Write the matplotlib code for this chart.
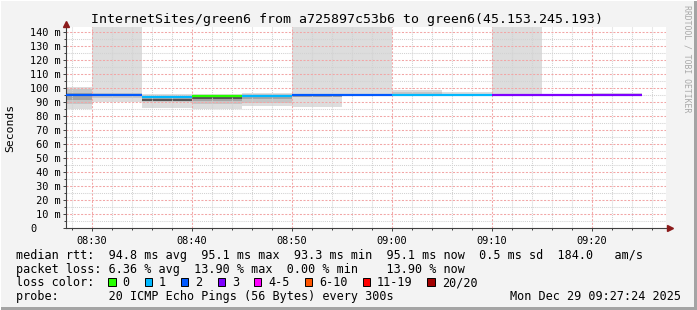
import matplotlib
matplotlib.use('Agg')
import matplotlib.pyplot as plt
import numpy as np
from matplotlib.patches import Rectangle

W, H = 697, 310

# --- data ---
seg_end = ["08:30", "08:35", "08:40", "08:45", "08:50", "08:55",
           "09:00", "09:05", "09:10", "09:15", "09:20", "09:25"]
median = [95.0, 95.3, 93.3, 94.3, 94.4, 95.2, 95.1, 95.1, 95.1, 95.0, 95.0, 95.1]
lost = [2, 2, 1, 0, 1, 2, 2, 1, 1, 3, 3, 3]

nan = np.nan
# smoke bands, outermost to innermost (ms); 150 = above top of chart
l1_lo = [85.2, 90.0, 85.7, 84.8, 87.0, 86.4, 95.0, 95.0, 95.0, 95.0, nan, 95.0]
l1_hi = [100.7, 150, 95.5, 95.5, 96.7, 150, 150, 98.6, 97.1, 150, nan, 96.4]
l2_lo = [88.8, 92.9, 90.0, 88.6, 89.0, nan, nan, 95.0, nan, nan, nan, nan]
l2_hi = [99.1, 96.4, 95.0, 95.0, 95.5, nan, nan, 97.0, nan, nan, nan, nan]
l3_lo = [91.5, nan, 90.5, 90.5, 92.0, 93.4, nan, nan, nan, nan, nan, nan]
l3_hi = [96.5, nan, 94.0, 94.0, 94.5, 94.5, nan, nan, nan, nan, nan, nan]
l4_lo = [nan, nan, 91.0, 92.0, nan, nan, nan, nan, nan, nan, nan, nan]
l4_hi = [nan, nan, 92.4, 93.8, nan, nan, nan, nan, nan, nan, nan, nan]

loss_labels = ["0", "1", "2", "3", "4-5", "6-10", "11-19", "20/20"]
loss_colors = ["#26ff00", "#00b8ff", "#0059ff", "#7e00ff",
               "#ff00ff", "#ff5500", "#ff0000", "#a10000"]

yticks = list(range(0, 150, 10))
xtick_labels = ["08:30", "08:40", "08:50", "09:00", "09:10", "09:20"]

title = "InternetSites/green6 from a725897c53b6 to green6(45.153.245.193)"
row_rtt = "median rtt:  94.8 ms avg  95.1 ms max  93.3 ms min  95.1 ms now  0.5 ms sd  184.0   am/s"
row_loss = "packet loss: 6.36 % avg  13.90 % max  0.00 % min    13.90 % now"
row_probe = "probe:       20 ICMP Echo Pings (56 Bytes) every 300s"
stamp = "Mon Dec 29 09:27:24 2025"


def minutes(s):
    h, m = s.split(":")
    return int(h) * 60 + int(m) - 8 * 60


ends = np.array([minutes(s) for s in seg_end], dtype=float)
starts = ends - 5

mono = "DejaVu Sans Mono"
plt.rcParams['font.family'] = mono

fig = plt.figure(figsize=(W / 100, H / 100), dpi=100, facecolor="#f3f3f3")

# frame of the rrdtool canvas
fig.add_artist(Rectangle((0, 0), 1, 3 / H, transform=fig.transFigure, color="#a4a4a4", lw=0))
fig.add_artist(Rectangle((1 - 3 / W, 0), 3 / W, 1, transform=fig.transFigure, color="#a4a4a4", lw=0))
fig.add_artist(Rectangle((0, 1 - 1 / H), 1, 1 / H, transform=fig.transFigure, color="#ffffff", lw=0))
fig.add_artist(Rectangle((0, 0), 1 / W, 1, transform=fig.transFigure, color="#ffffff", lw=0))


def px(x, y):
    return x / W, 1 - y / H


ax = fig.add_axes([66 / W, (H - 228) / H, 600 / W, 201 / H])
ax.set_facecolor("white")
ax.set_xlim(27.4, 87.4)
ax.set_ylim(0, 143.6)

shades = ["#dddddd", "#c6c6c6", "#a4a4a4", "#555555"]
for (lo, hi), c in zip([(l1_lo, l1_hi), (l2_lo, l2_hi), (l3_lo, l3_hi), (l4_lo, l4_hi)], shades):
    lo = np.array(lo, dtype=float)
    hi = np.array(hi, dtype=float)
    ok = ~np.isnan(lo)
    ax.bar(starts[ok], hi[ok] - lo[ok], width=5, bottom=lo[ok], align='edge',
           color=c, linewidth=0, zorder=1)

ax.hlines(median, starts, ends, colors=[loss_colors[n] for n in lost], lw=1.6, zorder=3)

# grid
ax.set_xticks(np.arange(30, 81, 10))
ax.set_xticklabels(xtick_labels)
ax.set_xticks(np.arange(28, 87, 2), minor=True)
ax.set_yticks(yticks)
ax.set_yticklabels(["0"] + [f"{v:>3d} m" for v in yticks[1:]])
ax.set_yticks(np.arange(5, 145, 10), minor=True)
ax.set_axisbelow('line')
ax.grid(which='minor', color="#d2d2d2", linestyle=(0, (1, 1)), lw=0.75)
ax.grid(which='major', color="#f2a6a6", linestyle=(0, (2, 1.5)), lw=0.75)

for s in ["top", "right"]:
    ax.spines[s].set_visible(False)
for s in ["left", "bottom"]:
    ax.spines[s].set_color("#404040")
    ax.spines[s].set_linewidth(0.8)
ax.spines["bottom"].set_bounds(27.4, 87.7)

ax.tick_params(which='both', direction='out', color="#404040", width=0.7)
ax.tick_params(which='major', length=2.2)
ax.tick_params(which='minor', length=1.5)
ax.tick_params(axis='x', labelsize=7.4, pad=3.2)
ax.tick_params(axis='y', labelsize=7.4, pad=23.6)
for lab in ax.get_yticklabels():
    lab.set_horizontalalignment('left')

# axis arrows
ax.plot([0], [1.0 + 3 / 201], marker='^', ms=4.5, color="#8b1a1a", clip_on=False,
        transform=ax.transAxes, zorder=5)
ax.plot([1.0 + 4 / 600], [0], marker='>', ms=4.5, color="#8b1a1a", clip_on=False,
        transform=ax.transAxes, zorder=5)

# texts
fig.text(347 / W, 1 - 23.5 / H, title, ha='center', va='baseline', fontsize=9.5, family=mono)
fig.text(10.5 / W, 1 - 127.5 / H, "Seconds", rotation=90, ha='center', va='center',
         fontsize=8.2, family=mono)
fig.text(686.5 / W, 1 - 59 / H, "RRDTOOL / TOBI OETIKER", rotation=-90, ha='center',
         va='center', fontsize=5.9, color="#a8a8a8", family=mono)

base = [259.0, 272.8, 286.5, 300.4]
fig.text(*px(15.5, base[0]), row_rtt, ha='left', va='baseline', fontsize=8.5)
fig.text(*px(15.5, base[1]), row_loss, ha='left', va='baseline', fontsize=8.5)
fig.text(*px(15.5, base[2]), "loss color:", ha='left', va='baseline', fontsize=8.5)
fig.text(*px(15.5, base[3]), row_probe, ha='left', va='baseline', fontsize=8.5)
fig.text(*px(681, base[3]), stamp, ha='right', va='baseline', fontsize=8.5)

bx = 108.3
for lab, col in zip(loss_labels, loss_colors):
    fig.add_artist(Rectangle(px(bx, base[2] - 0.2), 7.3 / W, 8 / H, transform=fig.transFigure,
                             facecolor=col, edgecolor="black", lw=0.7))
    fig.text(*px(bx + 14.3, base[2]), lab, ha='left', va='baseline', fontsize=8.5)
    bx = bx + 14.3 + len(lab) * 7.13 + 15

fig.savefig("out.png", dpi=100, facecolor=fig.get_facecolor())
